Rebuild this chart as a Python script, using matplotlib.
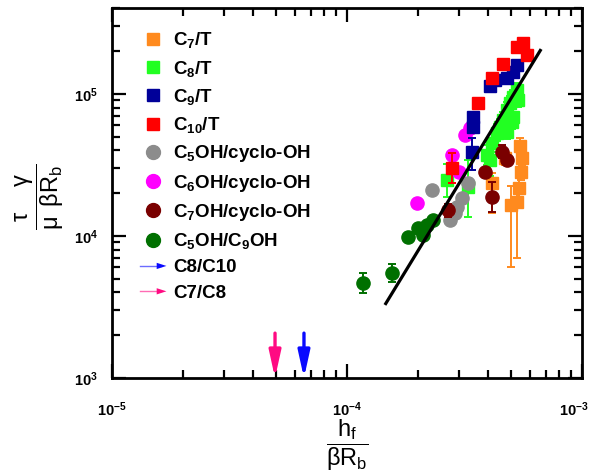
import matplotlib
matplotlib.use('Agg')
import matplotlib.pyplot as plt
import matplotlib.transforms as mtransforms
from matplotlib.lines import Line2D
from matplotlib.legend_handler import HandlerBase
from matplotlib.patches import FancyArrow
import numpy as np

plt.rcParams['font.family'] = ['Liberation Sans', 'DejaVu Sans']
plt.rcParams['mathtext.fontset'] = 'custom'
plt.rcParams['mathtext.rm'] = 'Liberation Sans'
plt.rcParams['mathtext.it'] = 'Liberation Sans:italic'
plt.rcParams['mathtext.bf'] = 'Liberation Sans:bold'

# ---------------- data ----------------
c7t_x = [4.14e-4, 4.70e-4, 4.99e-4, 5.28e-4, 5.39e-4, 5.50e-4, 5.55e-4, 5.45e-4]
c7t_y = [2.36e4, 3.54e4, 1.65e4, 1.73e4, 2.18e4, 2.83e4, 3.54e4, 4.30e4]
c7t_lo = [9.1e3, 4.0e3, 1.05e4, 1.03e4, 3.5e3, 3.5e3, 4.5e3, 5.0e3]
c7t_hi = [4.0e3, 4.5e3, 6.0e3, 6.0e3, 4.0e3, 4.0e3, 5.0e3, 6.0e3]

c8t_x = [2.67e-4, 3.27e-4, 3.94e-4, 4.14e-4, 4.35e-4, 4.48e-4, 4.61e-4, 4.80e-4,
         4.94e-4, 5.08e-4, 5.28e-4, 5.33e-4, 5.08e-4, 4.80e-4, 5.03e-4, 4.05e-4]
c8t_y = [2.48e4, 2.21e4, 3.72e4, 4.52e4, 5.31e4, 5.86e4, 6.56e4, 7.71e4,
         8.65e4, 9.53e4, 1.07e5, 9.08e4, 6.89e4, 5.40e4, 6.35e4, 3.43e4]
c8t_lo = [6.0e3, 8.5e3, 5.5e3, 6.0e3, 6.5e3, 7.0e3, 7.5e3, 8.5e3,
          9.5e3, 1.0e4, 1.1e4, 9.5e3, 7.5e3, 6.0e3, 7.0e3, 8.0e3]
c8t_hi = [7.5e3, 1.2e4, 6.5e3, 7.0e3, 8.0e3, 8.5e3, 9.0e3, 1.0e4,
          1.1e4, 1.2e4, 1.3e4, 1.1e4, 9.0e3, 7.0e3, 8.0e3, 9.0e3]

c9t_x = [3.40e-4, 3.43e-4, 3.43e-4, 4.06e-4, 4.27e-4, 4.80e-4, 5.09e-4, 5.29e-4]
c9t_y = [3.90e4, 5.86e4, 6.89e4, 1.14e5, 1.26e5, 1.30e5, 1.43e5, 1.60e5]
c9t_lo = [9.9e3, 0, 0, 0, 0, 0, 0, 0]
c9t_hi = [1.0e4, 0, 0, 0, 0, 0, 0, 0]

c10t_x = [2.80e-4, 3.61e-4, 4.14e-4, 4.61e-4, 5.29e-4, 5.61e-4, 5.83e-4]
c10t_y = [3.01e4, 8.65e4, 1.30e5, 1.63e5, 2.14e5, 2.29e5, 1.88e5]
c10t_lo = [6.5e3, 0, 0, 0, 0, 0, 0]
c10t_hi = [8.0e3, 0, 0, 0, 0, 0, 0]

c5oh_x = [2.10e-4, 2.30e-4, 2.74e-4, 2.88e-4, 2.94e-4, 3.08e-4, 3.27e-4]
c5oh_y = [1.14e4, 2.11e4, 1.30e4, 1.45e4, 1.60e4, 1.85e4, 2.36e4]

c6oh_x = [1.99e-4, 2.80e-4, 3.00e-4, 3.18e-4, 3.34e-4]
c6oh_y = [1.71e4, 3.72e4, 2.82e4, 5.14e4, 5.76e4]

c7oh_x = [2.69e-4, 3.87e-4, 4.14e-4, 4.57e-4, 4.80e-4]
c7oh_y = [1.52e4, 2.82e4, 1.88e4, 3.90e4, 3.43e4]
c7oh_lo = [1.5e3, 0, 4.1e3, 3.5e3, 0]
c7oh_hi = [1.7e3, 0, 5.2e3, 4.5e3, 0]

c5c9_x = [1.17e-4, 1.55e-4, 1.82e-4, 2.00e-4, 2.10e-4, 2.20e-4, 2.32e-4]
c5c9_y = [4.67e3, 5.48e3, 9.84e3, 1.14e4, 1.02e4, 1.20e4, 1.30e4]
c5c9_lo = [7.0e2, 7.5e2, 0, 0, 0, 0, 0]
c5c9_hi = [8.2e2, 8.8e2, 0, 0, 0, 0, 0]

fit_x = [1.45e-4, 6.70e-4]
fit_y = [3.27e3, 2.07e5]

arrow_x = [4.94e-5, 6.56e-5]     # C7/C8, C8/C10
arrow_top = 2.07e3

xtick_vals = [1e-5, 1e-4, 1e-3]
xtick_labels = [r'$\mathbf{10^{-5}}$', r'$\mathbf{10^{-4}}$', r'$\mathbf{10^{-3}}$']
ytick_vals = [1e3, 1e4, 1e5]
ytick_labels = [r'$\mathbf{10^{3}}$', r'$\mathbf{10^{4}}$', r'$\mathbf{10^{5}}$']

# ---------------- styles ----------------
ORANGE = '#FF8A1E'
LGREEN = '#22FF22'
NAVY = '#000099'
RED = '#FF0000'
GRAY = '#8C8C8C'
MAGENTA = '#FF00FF'
MAROON = '#7A0000'
DGREEN = '#007000'
PINK = '#FF0A82'
BLUE = '#0A0AFF'

fig = plt.figure(figsize=(5.95, 4.76), dpi=100)
ax = fig.add_axes([112/595, (476-378)/476, (582-112)/595, (378-8)/476])
ax.set_xscale('log')
ax.set_yscale('log')
ax.set_xlim(1e-5, 1e-3)
ax.set_ylim(1e3, 4.03e5)

SQ = 8.0
CI = 9.5
ekw = dict(capsize=3, elinewidth=1.4, capthick=1.4, ls='none')

ax.errorbar(c7t_x, c7t_y, yerr=[c7t_lo, c7t_hi], fmt='s', color=ORANGE, ms=SQ, zorder=3, **ekw)
ax.errorbar(c8t_x, c8t_y, yerr=[c8t_lo, c8t_hi], fmt='s', color=LGREEN, ms=SQ, zorder=3, **ekw)
ax.errorbar(c5oh_x, c5oh_y, fmt='o', color=GRAY, ms=CI, zorder=3, ls='none')
ax.errorbar(c5c9_x, c5c9_y, yerr=[c5c9_lo, c5c9_hi], fmt='o', color=DGREEN, ms=CI, zorder=3, **ekw)
ax.errorbar(c6oh_x, c6oh_y, fmt='o', color=MAGENTA, ms=CI, zorder=3, ls='none')
ax.errorbar(c7oh_x, c7oh_y, yerr=[c7oh_lo, c7oh_hi], fmt='o', color=MAROON, ms=CI, zorder=4, **ekw)
ax.errorbar(c9t_x, c9t_y, yerr=[c9t_lo, c9t_hi], fmt='s', color=NAVY, ms=SQ, zorder=4, **ekw)
ax.errorbar(c10t_x, c10t_y, yerr=[c10t_lo, c10t_hi], fmt='s', color=RED, ms=SQ, zorder=4, **ekw)

ax.plot(fit_x, fit_y, color='black', lw=2.3, zorder=6, solid_capstyle='butt')

for xv, col in zip(arrow_x, [PINK, BLUE]):
    ax.annotate('', xy=(xv, 1e3), xytext=(xv, arrow_top),
                arrowprops=dict(arrowstyle='-|>,head_length=1.0,head_width=0.22',
                                color=col, lw=2.4, shrinkA=0, shrinkB=0,
                                mutation_scale=16), zorder=5)

# ticks
ax.tick_params(which='both', direction='in', top=True, right=True)
ax.tick_params(which='major', length=10, width=1.6)
ax.tick_params(which='minor', length=5.5, width=1.6)
ax.tick_params(axis='x', which='major', pad=16)
ax.tick_params(axis='y', which='major', pad=10)
ax.set_xticks(xtick_vals)
ax.set_xticklabels(xtick_labels, fontsize=10.5)
ax.set_yticks(ytick_vals)
ax.set_yticklabels(ytick_labels, fontsize=10.5)
last = ax.get_xticklabels()[-1]
last.set_transform(last.get_transform() + mtransforms.ScaledTranslation(-6/72, 0, fig.dpi_scale_trans))
for s in ax.spines.values():
    s.set_linewidth(2.0)

ax.set_xlabel(r'$\dfrac{\mathrm{h_f}}{\mathrm{\beta R_b}}$', fontsize=17)
ax.xaxis.set_label_coords(0.5, -0.108)
ax.set_ylabel(r'$\dfrac{\mathrm{\tau\ \ \ \ \gamma}}{\mathrm{\mu\ \,\beta R_b}}$', fontsize=17)
ax.yaxis.set_label_coords(-0.098, 0.49)


# legend
class ArrowHandler(HandlerBase):
    def create_artists(self, legend, orig_handle, xdescent, ydescent, width, height, fontsize, trans):
        y = height / 2 - ydescent
        col = orig_handle.get_color()
        line = Line2D([-xdescent, -xdescent + width - 4], [y, y], color=col, lw=1.0, alpha=0.6, transform=trans)
        arr = FancyArrow(-xdescent + width - 7, y, 7, 0, width=0.5, head_width=4.5, head_length=7,
                         length_includes_head=True, color=col, lw=0, transform=trans)
        return [line, arr]


labels = [r'$\mathbf{C_7}$/T', r'$\mathbf{C_8}$/T', r'$\mathbf{C_9}$/T', r'$\mathbf{C_{10}}$/T',
          r'$\mathbf{C_5}$OH/cyclo-OH', r'$\mathbf{C_6}$OH/cyclo-OH', r'$\mathbf{C_7}$OH/cyclo-OH',
          r'$\mathbf{C_5}$OH/$\mathbf{C_9}$OH', 'C8/C10', 'C7/C8']
hcols = [ORANGE, LGREEN, NAVY, RED, GRAY, MAGENTA, MAROON, DGREEN]
hmarks = ['s', 's', 's', 's', 'o', 'o', 'o', 'o']
handles = [Line2D([], [], ls='none', marker=m, color=c, ms=(SQ + 1 if m == 's' else CI + 0.5))
           for m, c in zip(hmarks, hcols)]
a1 = Line2D([], [], color=BLUE)
a2 = Line2D([], [], color=PINK)
handles += [a1, a2]
leg = ax.legend(handles, labels, loc='upper left', bbox_to_anchor=(0.032, 0.975),
                frameon=False, prop={'weight': 'bold', 'size': 13.5},
                handlelength=1.4, handletextpad=0.35, labelspacing=0.44, borderpad=0.2,
                handler_map={a1: ArrowHandler(), a2: ArrowHandler()})

fig.savefig('out.png', dpi=100)
